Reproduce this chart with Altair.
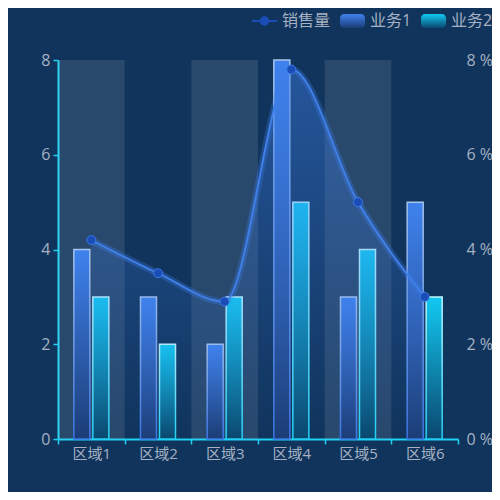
import altair as alt
import pandas as pd

categories = ["区域1", "区域2", "区域3", "区域4", "区域5", "区域6"]
biz1 = [4, 3, 2, 8, 3, 5]
biz2 = [3, 2, 3, 5, 4, 3]
sales = [4.2, 3.5, 2.9, 7.8, 5.0, 3.0]
band_cats = ["区域1", "区域3", "区域5"]
legend_labels = ["销售量", "业务1", "业务2"]

BG = "#10345c"
CYAN = "#1fd0f3"
LABEL = "#a6b2c3"
FONT = "Open Sans, Noto Sans CJK SC"

df = pd.DataFrame({"cat": categories, "b1": biz1, "b2": biz2, "sales": sales})
bands_df = pd.DataFrame({"cat": band_cats, "lo": [0] * len(band_cats), "hi": [8] * len(band_cats)})

x_axis = alt.Axis(
    title=None, domainColor=CYAN, domainWidth=2, tickColor=CYAN, tickSize=5,
    tickWidth=1.5, tickBand="extent", labelColor=LABEL, labelFontSize=15, labelFont=FONT,
    labelPadding=2, labelAngle=0, grid=False,
)
X = alt.X("cat:N", sort=categories, axis=x_axis,
          scale=alt.Scale(domain=categories, paddingInner=0, paddingOuter=0))

yl_axis = alt.Axis(
    title=None, values=[0, 2, 4, 6, 8], domainColor=CYAN, domainWidth=2,
    tickColor=CYAN, tickSize=5, tickWidth=1.5, labelColor=LABEL, labelFontSize=16,
    labelFont=FONT, labelPadding=3, grid=False,
)
yl_scale = alt.Scale(domain=[0, 8], nice=False)

bands = alt.Chart(bands_df).mark_bar(color="#ffffff", opacity=0.1).encode(
    x=X,
    y=alt.Y("lo:Q", scale=yl_scale, axis=yl_axis),
    y2="hi:Q",
)

g1_fill = alt.Gradient(gradient="linear", x1=0, x2=0, y1=0, y2=1,
                       stops=[alt.GradientStop(color="#3f82ee", offset=0),
                              alt.GradientStop(color="#1c3d76", offset=1)])
g1_stroke = alt.Gradient(gradient="linear", x1=0, x2=0, y1=0, y2=1,
                         stops=[alt.GradientStop(color="#a6c4ec", offset=0),
                                alt.GradientStop(color="#3a74e4", offset=1)])
g2_fill = alt.Gradient(gradient="linear", x1=0, x2=0, y1=0, y2=1,
                       stops=[alt.GradientStop(color="#12c9f2", offset=0),
                              alt.GradientStop(color="#0b476e", offset=1)])
g2_stroke = alt.Gradient(gradient="linear", x1=0, x2=0, y1=0, y2=1,
                         stops=[alt.GradientStop(color="#c2f5ff", offset=0),
                                alt.GradientStop(color="#1ecff3", offset=1)])

bar1 = alt.Chart(df).mark_bar(width=16, xOffset=-9.5, fill=g1_fill, stroke=g1_stroke,
                              strokeWidth=1.5).encode(
    x=X, y=alt.Y("b1:Q", scale=yl_scale, axis=yl_axis))
bar2 = alt.Chart(df).mark_bar(width=16, xOffset=9.5, fill=g2_fill, stroke=g2_stroke,
                              strokeWidth=1.5).encode(
    x=X, y=alt.Y("b2:Q", scale=yl_scale, axis=yl_axis))

left = alt.layer(bands, bar1, bar2)

yr_axis = alt.Axis(
    title=None, orient="right", values=[0, 2, 4, 6, 8], domain=False, ticks=False,
    labelColor=LABEL, labelFontSize=16, labelFont=FONT, labelPadding=8, grid=False,
    labelExpr="datum.value + ' %'",
)
yr_scale = alt.Scale(domain=[0, 8], nice=False)
YR = alt.Y("sales:Q", scale=yr_scale, axis=yr_axis)

area_grad = alt.Gradient(gradient="linear", x1=0, x2=0, y1=0, y2=1,
                         stops=[alt.GradientStop(color="rgba(63,127,232,0.45)", offset=0),
                                alt.GradientStop(color="rgba(63,127,232,0.0)", offset=1)])
area = alt.Chart(df).mark_area(interpolate="monotone", fill=area_grad).encode(x=X, y=YR)
glow = alt.Chart(df).mark_line(interpolate="monotone", color="#3f7fe8", strokeWidth=7,
                               opacity=0.3).encode(x=X, y=YR)
line = alt.Chart(df).mark_line(interpolate="monotone", color="#3f7fe8",
                               strokeWidth=2).encode(x=X, y=YR)
pts = alt.Chart(df).mark_point(filled=True, shape="circle", size=80, fill="#1a4db5",
                               stroke="#3b78e6", strokeWidth=1, opacity=1).encode(x=X, y=YR)
right = alt.layer(area, glow, line, pts)

# legend (top right)
leg = pd.DataFrame({"label": legend_labels})
LY = -39
leg_line = alt.Chart(leg).transform_filter(alt.datum.label == legend_labels[0]).mark_rule(
    color="#1a4db5", strokeWidth=2).encode(x=alt.value(194), x2=alt.value(219), y=alt.value(LY))
leg_dot = alt.Chart(leg).transform_filter(alt.datum.label == legend_labels[0]).mark_point(
    filled=True, shape="circle", size=90, color="#1a4db5", opacity=1).encode(
    x=alt.value(206.5), y=alt.value(LY))
leg_r1 = alt.Chart(leg).transform_filter(alt.datum.label == legend_labels[1]).mark_rect(
    fill=g1_fill, cornerRadius=4).encode(
    x=alt.value(282), x2=alt.value(307), y=alt.value(LY - 7), y2=alt.value(LY + 7))
leg_r2 = alt.Chart(leg).transform_filter(alt.datum.label == legend_labels[2]).mark_rect(
    fill=g2_fill, cornerRadius=4).encode(
    x=alt.value(363), x2=alt.value(388), y=alt.value(LY - 7), y2=alt.value(LY + 7))
leg_t0 = alt.Chart(leg).transform_filter(alt.datum.label == legend_labels[0]).mark_text(
    align="left", baseline="middle", fontSize=16, font=FONT, color=LABEL).encode(
    x=alt.value(224), y=alt.value(LY), text="label:N")
leg_t1 = alt.Chart(leg).transform_filter(alt.datum.label == legend_labels[1]).mark_text(
    align="left", baseline="middle", fontSize=16, font=FONT, color=LABEL).encode(
    x=alt.value(312), y=alt.value(LY), text="label:N")
leg_t2 = alt.Chart(leg).transform_filter(alt.datum.label == legend_labels[2]).mark_text(
    align="left", baseline="middle", fontSize=16, font=FONT, color=LABEL).encode(
    x=alt.value(393), y=alt.value(LY), text="label:N")

chart = alt.layer(
    left, right, leg_line, leg_dot, leg_r1, leg_r2, leg_t0, leg_t1, leg_t2
).resolve_scale(y="independent").properties(
    width=400, height=379, background=BG,
    padding={"left": 50, "top": 52, "right": 34, "bottom": 53},
    autosize=alt.AutoSizeParams(type="none"),
).configure_view(stroke=None)

chart.save("out.html", embed_options={"renderer": "svg", "actions": False})
